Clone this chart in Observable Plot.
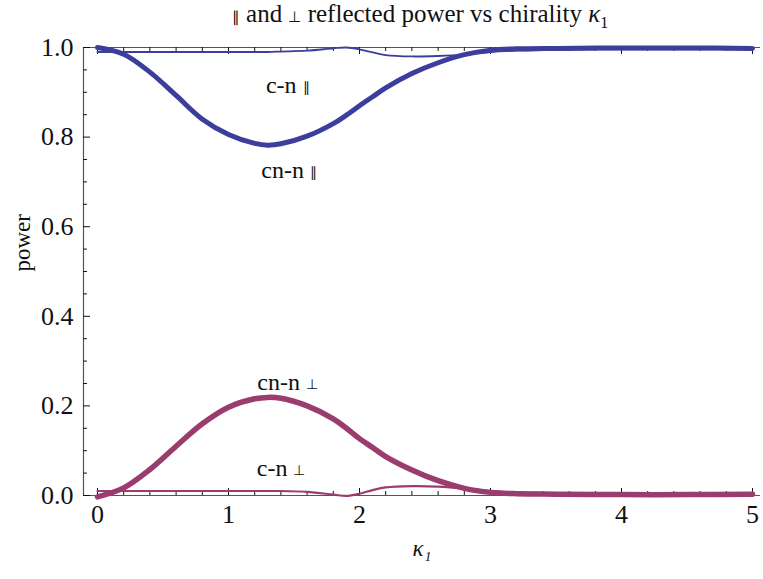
<!DOCTYPE html>
<html><head><meta charset="utf-8">
<script src="https://cdn.jsdelivr.net/npm/d3@7"></script>
<script src="https://cdn.jsdelivr.net/npm/@observablehq/plot@0.6"></script>
<style>
body{margin:0;background:#fff;font-family:'Liberation Serif',serif;}
#title{height:30px;width:763px;position:relative;overflow:hidden;}
#title .t{position:absolute;left:0;width:840px;text-align:center;top:0px;font-size:25px;line-height:28px;color:#111;white-space:nowrap;}
#title .sym{font-size:15px;}
#title sub{font-size:16px;line-height:0;}
#chart svg{display:block;}
</style></head><body>
<div id="title"><span class="t"><span class="sym">∥</span> and <span class="sym">⊥</span> reflected power vs chirality <i>κ</i><sub>1</sub></span></div>
<div id="chart"></div>
<script>
// κ1 sample points
const kappa = [0, 0.2, 0.4, 0.6, 0.8, 1.0, 1.2, 1.3, 1.4, 1.6, 1.8, 1.9, 2.0, 2.1, 2.2, 2.4, 2.6, 2.8, 3.0, 3.2, 3.5, 4.0, 4.5, 5.0];
// series values
const cnnPar  = [1.000, 0.985, 0.945, 0.893, 0.840, 0.806, 0.786, 0.782, 0.785, 0.802, 0.830, 0.849, 0.870, 0.890, 0.910, 0.942, 0.966, 0.984, 0.994, 0.997, 0.998, 0.999, 0.999, 0.998];
const cnnPerp = [-0.003, 0.017, 0.058, 0.110, 0.160, 0.197, 0.216, 0.219, 0.217, 0.200, 0.171, 0.150, 0.127, 0.107, 0.087, 0.057, 0.033, 0.016, 0.007, 0.004, 0.003, 0.002, 0.002, 0.003];
const cnPar   = [0.990, 0.990, 0.990, 0.990, 0.990, 0.990, 0.990, 0.990, 0.991, 0.993, 0.998, 1.000, 0.996, 0.989, 0.983, 0.980, 0.981, 0.984, 0.990, 0.993, 0.995, 0.996, 0.996, 0.996];
const cnPerp  = [0.010, 0.010, 0.010, 0.010, 0.010, 0.010, 0.010, 0.010, 0.010, 0.008, 0.002, -0.001, 0.004, 0.012, 0.018, 0.021, 0.020, 0.016, 0.010, 0.007, 0.005, 0.004, 0.004, 0.004];
// tick labels
const xTickLabels = [0, 1, 2, 3, 4, 5];
const yTickLabels = [0.0, 0.2, 0.4, 0.6, 0.8, 1.0];
// curve annotations: name, polarisation symbol, position (κ1, power)
const labelName = ["c-n", "cn-n", "cn-n", "c-n"];
const labelSym  = ["∥", "∥", "⊥", "⊥"];
const labelK    = [1.46, 1.47, 1.44, 1.39];
const labelP    = [0.915, 0.725, 0.252, 0.060];

const BLUE = "#3d3d9d", MAG = "#9b3c6e";
const series = [
  {vals: cnPar, color: BLUE, w: 1.8},
  {vals: cnPerp, color: MAG, w: 2.2},
  {vals: cnnPerp, color: MAG, w: 5.5},
  {vals: cnnPar, color: BLUE, w: 5}
];
const xMinor = d3.range(0, 5.0001, 0.2).map(v => +v.toFixed(2)).filter(v => Math.abs(v - Math.round(v)) > 1e-6);
const yMinor = d3.range(0, 1.0001, 0.05).map(v => +v.toFixed(2)).filter(v => Math.abs(v * 5 - Math.round(v * 5)) > 1e-6);
const xDom = [-14/131, 5 + 8/131];
const frameH = 448, frameW = 677;
const font = "Liberation Serif";

const lineMarks = series.map(s => Plot.line(kappa.map((k, i) => ({k, p: s.vals[i]})), {
  x: "k", y: "p", stroke: s.color, strokeWidth: s.w, curve: "catmull-rom", clip: false
}));

// annotation marks: main word followed by a small polarisation symbol
const LFS = 24;
const labelMarks = labelName.flatMap((name, i) => {
  const w = name === "cn-n" ? 1.777 * LFS : 1.277 * LFS;
  const symW = 9, gap = 6;
  const total = w + gap + symW;
  return [
    Plot.text([name], {x: [labelK[i]], y: [labelP[i]], text: d => d, textAnchor: "start", dx: -total / 2, fontSize: LFS, fontFamily: font, fill: "#111"}),
    Plot.text([labelSym[i]], {x: [labelK[i]], y: [labelP[i]], text: d => d, textAnchor: "start", dx: -total / 2 + w + gap, dy: 2, fontSize: 14, fontFamily: font, fill: "#111"})
  ];
});

const chart = Plot.plot({
  width: 763, height: 549,
  marginTop: 17, marginBottom: 84, marginLeft: 83, marginRight: 3,
  style: {fontFamily: font, background: "#fff", overflow: "visible"},
  x: {domain: xDom, axis: null},
  y: {domain: [0, 1], axis: null},
  marks: [
    Plot.ruleY([0], {stroke: "#555", strokeWidth: 1.2}),
    Plot.ruleY([1], {stroke: "#555", strokeWidth: 1.2}),
    Plot.ruleX([xDom[0]], {stroke: "#555", strokeWidth: 1.2}),
    Plot.ruleX(xTickLabels, {stroke: "#111", insetTop: frameH - 7}),
    Plot.ruleX(xMinor, {stroke: "#111", insetTop: frameH - 4}),
    Plot.ruleX(xTickLabels, {stroke: "#111", insetBottom: frameH - 7}),
    Plot.ruleX(xMinor, {stroke: "#111", insetBottom: frameH - 4}),
    Plot.ruleY(yTickLabels, {stroke: "#111", insetRight: frameW - 7}),
    Plot.ruleY(yMinor, {stroke: "#111", insetRight: frameW - 4}),
    ...lineMarks,
    Plot.text(xTickLabels, {x: d => d, frameAnchor: "bottom", dy: 27, text: d => String(d), fontSize: 26, fill: "#111", fontFamily: font}),
    Plot.text(yTickLabels, {y: d => d, frameAnchor: "left", dx: -10, textAnchor: "end", text: d => d.toFixed(1), fontSize: 26, fill: "#111", fontFamily: font}),
    ...labelMarks,
    Plot.text(["power"], {frameAnchor: "left", dx: -61, rotate: -90, text: d => d, fontSize: 23, fill: "#111", fontFamily: font}),
    Plot.text(["κ₁"], {frameAnchor: "bottom", dy: 60, text: d => d, fontSize: 23, fontStyle: "italic", fill: "#111", fontFamily: font})
  ]
});
document.getElementById("chart").appendChild(chart);
</script>
</body></html>
